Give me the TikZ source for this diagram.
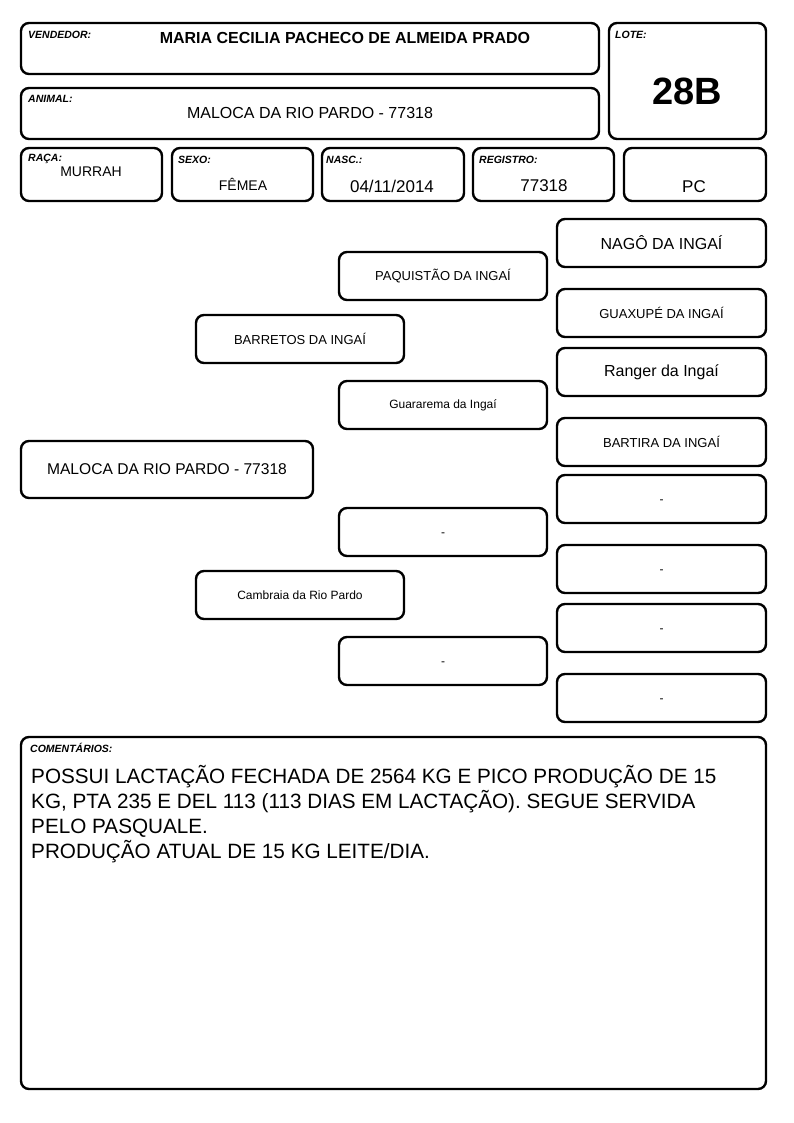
\documentclass[tikz,border=0pt]{standalone}
\usepackage{fontspec}
\setmainfont{Liberation Sans}
\begin{document}
\begin{tikzpicture}[x=1pt,y=-1pt,
  box/.style={draw=black,line width=2.4pt,rounded corners=8pt,inner sep=0pt},
  lbl/.style={anchor=north west,inner sep=0pt,font=\fontsize{10.5}{11}\selectfont\bfseries\itshape},
  fs/.style={font=\fontsize{#1}{#1}\selectfont},
  dsh/.style={text height=9pt,text depth=0pt},
  txt/.style={inner sep=0pt}]
\useasboundingbox[fill=white] (0,0) rectangle (794,1123);
% header
\node[box,minimum width=578,minimum height=51] (vend) at (310,48.5) {};
\node[box,minimum width=157,minimum height=116] (lote) at (687.5,81) {};
\node[box,minimum width=578,minimum height=51] (anim) at (310,113.5) {};
\node[box,minimum width=141,minimum height=53] (raca) at (91.5,174.5) {};
\node[box,minimum width=141,minimum height=53] (sexo) at (242.5,174.5) {};
\node[box,minimum width=142,minimum height=53] (nasc) at (393,174.5) {};
\node[box,minimum width=141,minimum height=53] (reg) at (543.5,174.5) {};
\node[box,minimum width=142,minimum height=53] (pc) at (695,174.5) {};
\node[lbl] (vendl) at (28,30.5) {VENDEDOR:};
\node[txt,font=\fontsize{16}{16}\selectfont\bfseries] (vendt) at (345,38) {MARIA CECILIA PACHECO DE ALMEIDA PRADO};
\node[lbl] (lotel) at (615,30.5) {LOTE:};
\node[txt,font=\fontsize{38}{38}\selectfont\bfseries] (lotet) at (687,91) {28B};
\node[lbl] (animl) at (28,95) {ANIMAL:};
\node[txt,fs=16] (animt) at (310,113) {MALOCA DA RIO PARDO - 77318};
\node[lbl] (racal) at (28,154) {RAÇA:};
\node[txt,fs=14] (racat) at (91,172) {MURRAH};
\node[lbl] (sexol) at (178,156) {SEXO:};
\node[txt,fs=14] (sexot) at (243,184) {FÊMEA};
\node[lbl] (nascl) at (326,156) {NASC.:};
\node[txt,fs=17] (nasct) at (392,186) {04/11/2014};
\node[lbl] (regl) at (479,156) {REGISTRO:};
\node[txt,fs=17] (regt) at (544,186) {77318};
\node[txt,fs=17] (pct) at (694,187) {PC};
% pedigree
\node[box,minimum width=292,minimum height=57,fs=15.6] (main) at (167,469.5) {MALOCA DA RIO PARDO - 77318};
\node[box,minimum width=208,minimum height=48,fs=13] (pai) at (300,339) {BARRETOS DA INGAÍ};
\node[box,minimum width=208,minimum height=48,fs=12] (mae) at (300,595) {Cambraia da Rio Pardo};
\node[box,minimum width=208,minimum height=48,fs=13] (pp) at (443,276) {PAQUISTÃO DA INGAÍ};
\node[box,minimum width=208,minimum height=48,fs=12] (pm) at (443,405) {Guararema da Ingaí};
\node[box,minimum width=208,minimum height=48,fs=12,dsh] (mp) at (443,532) {-};
\node[box,minimum width=208,minimum height=48,fs=12,dsh] (mm) at (443,661) {-};
\node[box,minimum width=209,minimum height=48,fs=16] (ppp) at (661.5,243) {NAGÔ DA INGAÍ};
\node[box,minimum width=209,minimum height=48,fs=13] (ppm) at (661.5,313) {GUAXUPÉ DA INGAÍ};
\node[box,minimum width=209,minimum height=48,fs=16] (pmp) at (661.5,372) {Ranger da Ingaí};
\node[box,minimum width=209,minimum height=48,fs=13] (pmm) at (661.5,442) {BARTIRA DA INGAÍ};
\node[box,minimum width=209,minimum height=48,fs=12,dsh] (mpp) at (661.5,499) {-};
\node[box,minimum width=209,minimum height=48,fs=12,dsh] (mpm) at (661.5,569) {-};
\node[box,minimum width=209,minimum height=48,fs=12,dsh] (mmp) at (661.5,628) {-};
\node[box,minimum width=209,minimum height=48,fs=12,dsh] (mmm) at (661.5,698) {-};
% comments
\node[box,minimum width=745,minimum height=352] (com) at (393.5,913) {};
\node[lbl] (coml) at (30,743.5) {COMENTÁRIOS:};
\node[anchor=north west,inner sep=0pt,align=left,font=\fontsize{20.7}{25}\selectfont] (comt) at (31,765) {POSSUI LACTAÇÃO FECHADA DE 2564 KG E PICO PRODUÇÃO DE 15\\KG, PTA 235 E DEL 113 (113 DIAS EM LACTAÇÃO). SEGUE SERVIDA\\PELO PASQUALE.\\PRODUÇÃO ATUAL DE 15 KG LEITE/DIA.};
\end{tikzpicture}
\end{document}
